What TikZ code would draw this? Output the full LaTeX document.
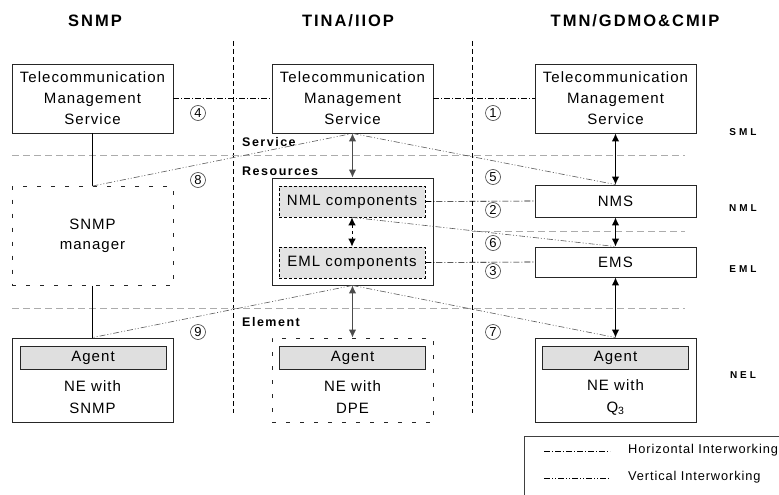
\documentclass[tikz,border=0pt]{standalone}
\usepackage{fontspec}
\setmainfont{Liberation Sans}
\newfontfamily\txtfont[LetterSpace=7]{Liberation Sans}
\newfontfamily\hdfont[LetterSpace=12]{Liberation Sans}
\newfontfamily\lvfont[LetterSpace=30]{Liberation Sans}
\newcommand\bodyfont{\txtfont\fontsize{15}{21}\selectfont}
\usepackage{tikz}
\usetikzlibrary{arrows.meta,positioning}

\begin{document}
\begin{tikzpicture}[x=1pt,y=-1pt,>={Latex[length=8pt,width=7.5pt]},
    box/.style={draw=black!85,line width=0.9pt,minimum width=161pt,minimum height=69pt,align=center,inner sep=0pt,font=\bodyfont},
    dbox/.style={dash pattern=on 4pt off 10pt},
    comp/.style={draw,fill=gray!22,dash pattern=on 3pt off 2pt,line width=0.7pt,minimum width=146pt,minimum height=31pt,inner sep=0pt,font=\bodyfont},
    agent/.style={draw=black!85,fill=gray!25,line width=0.8pt,minimum width=146pt,minimum height=23pt,inner sep=0pt,font=\bodyfont},
    txt/.style={align=center,inner sep=0pt,font=\txtfont\fontsize{15}{22}\selectfont},
    sep/.style={gray!65,dash pattern=on 7pt off 4pt,line width=0.8pt},
    vsep/.style={dash pattern=on 5pt off 3pt,line width=0.6pt},
    hiw/.style={dash pattern=on 6pt off 2pt on 1pt off 2pt,line width=0.6pt},
    viw/.style={black!65,dash pattern=on 6pt off 2pt on 1pt off 2pt on 1pt off 2pt,line width=0.6pt},
    link/.style={<->,line width=1pt},
    num/.style={circle,draw=black!75,line width=0.6pt,minimum size=15pt,inner sep=0pt,font=\fontsize{13}{13}\selectfont},
    hd/.style={font=\hdfont\bfseries\fontsize{16.5}{18}\selectfont},
    zone/.style={anchor=west,inner sep=0pt,font=\hdfont\bfseries\fontsize{12.5}{14}\selectfont},
    lvl/.style={inner sep=0pt,font=\lvfont\bfseries\fontsize{10}{12}\selectfont},
    leg/.style={anchor=west,inner sep=0pt,font=\txtfont\fontsize{12.8}{14}\selectfont}]
  \useasboundingbox (0,0) rectangle (779,495);
  %
  % columns and layers
  \node[hd] (hSNMP) at (95,21) {SNMP};
  \node[hd] (hTINA) at (348,21) {TINA/IIOP};
  \node[hd] (hTMN) at (635,21) {TMN/GDMO\&CMIP};
  \draw[vsep] (233,41) -- (233,413);
  \draw[vsep] (472,41) -- (472,413);
  \draw[sep] (12,155) -- (685,155);
  \draw[sep] (472,231) -- (685,231);
  \draw[sep] (12,308) -- (685,308);
  \node[zone] (zServ) at (242,142) {Service};
  \node[zone] (zRes) at (242,171) {Resources};
  \node[zone] (zElem) at (242,322) {Element};
  \node[lvl] (lSML) at (743,132) {SML};
  \node[lvl] (lNML) at (743,208) {NML};
  \node[lvl] (lEML) at (743,269) {EML};
  \node[lvl] (lNEL) at (743,375) {NEL};
  %
  % SNMP
  \node[box] (snmpTMS) at (92.5,98.5) {Telecommunication\\Management\\Service};
  \node[box,dbox,minimum height=99pt,font=\txtfont\fontsize{15}{20}\selectfont] (mgr) at (92.5,236) {SNMP\\manager};
  \node[box,minimum height=84pt] (snmpNE) at (92.5,380) {};
  \node[agent] (snmpAg) at (93,357.5) {Agent};
  \node[txt] (snmpTx) at (92.5,397) {NE with\\SNMP};
  \draw[line width=0.9pt] (snmpTMS) -- (mgr);
  \draw[line width=0.9pt] (mgr) -- (snmpNE);
  %
  % TINA
  \node[box] (tinaTMS) at (352.5,98.5) {Telecommunication\\Management\\Service};
  \node[box,minimum height=107pt] (res) at (352.5,231.5) {};
  \node[comp] (nml) at (352,201.5) {NML components};
  \node[comp] (eml) at (352,262.5) {EML components};
  \node[box,dbox,minimum height=84pt] (dpeNE) at (352.5,380) {};
  \node[agent] (dpeAg) at (352.5,357.5) {Agent};
  \node[txt] (dpeTx) at (352.5,397) {NE with\\DPE};
  \draw[link,black!70] (tinaTMS) -- (res);
  \draw[link,dashed] (nml) -- (eml);
  \draw[link,black!70] (res) -- (dpeNE);
  %
  % TMN
  \node[box] (tmnTMS) at (615.5,98.5) {Telecommunication\\Management\\Service};
  \node[box,minimum height=32pt] (nms) at (615.5,201) {NMS};
  \node[box,minimum height=30pt] (ems) at (615.5,262) {EMS};
  \node[box,minimum height=84pt] (q3NE) at (615.5,380) {};
  \node[agent] (q3Ag) at (615.5,357.5) {Agent};
  \node[txt] (q3Tx) at (615.5,397) {NE with\\Q\textsubscript{3}};
  \draw[link] (tmnTMS) -- (nms);
  \draw[link] (nms) -- (ems);
  \draw[link] (ems) -- (q3NE);
  %
  % interworking
  \draw[hiw] (snmpTMS.east) -- (tinaTMS.west);
  \draw[hiw] (tinaTMS.east) -- (tmnTMS.west);
  \draw[hiw] (nml.east) -- (nms.west);
  \draw[hiw] (eml.east) -- (ems.west);
  \draw[viw] (mgr.north) -- (tinaTMS.south);
  \draw[viw] (tinaTMS.south) -- (nms.north);
  \draw[viw] (nml.south) -- (ems.north);
  \draw[viw] (res.south) -- (q3NE.north);
  \draw[viw] (res.south) -- (snmpNE.north);
  \node[num] (n1) at (493,113) {1};
  \node[num] (n2) at (493,210) {2};
  \node[num] (n3) at (493,271) {3};
  \node[num] (n4) at (198,113) {4};
  \node[num] (n5) at (493,177) {5};
  \node[num] (n6) at (493,243) {6};
  \node[num] (n7) at (493,332) {7};
  \node[num] (n8) at (198,180) {8};
  \node[num] (n9) at (198,332) {9};
  %
  % legend
  \draw[black!75,line width=0.8pt] (524,436) rectangle (800,520);
  \coordinate (hA) at (544,451);
  \coordinate (hB) at (610,451);
  \coordinate (vA) at (544,478);
  \coordinate (vB) at (610,478);
  \draw[hiw] (hA) -- (hB);
  \draw[viw,black] (vA) -- (vB);
  \node[leg] (hTxt) at (628,450) {Horizontal Interworking};
  \node[leg] (vTxt) at (628,477) {Vertical Interworking};
\end{tikzpicture}
\end{document}
